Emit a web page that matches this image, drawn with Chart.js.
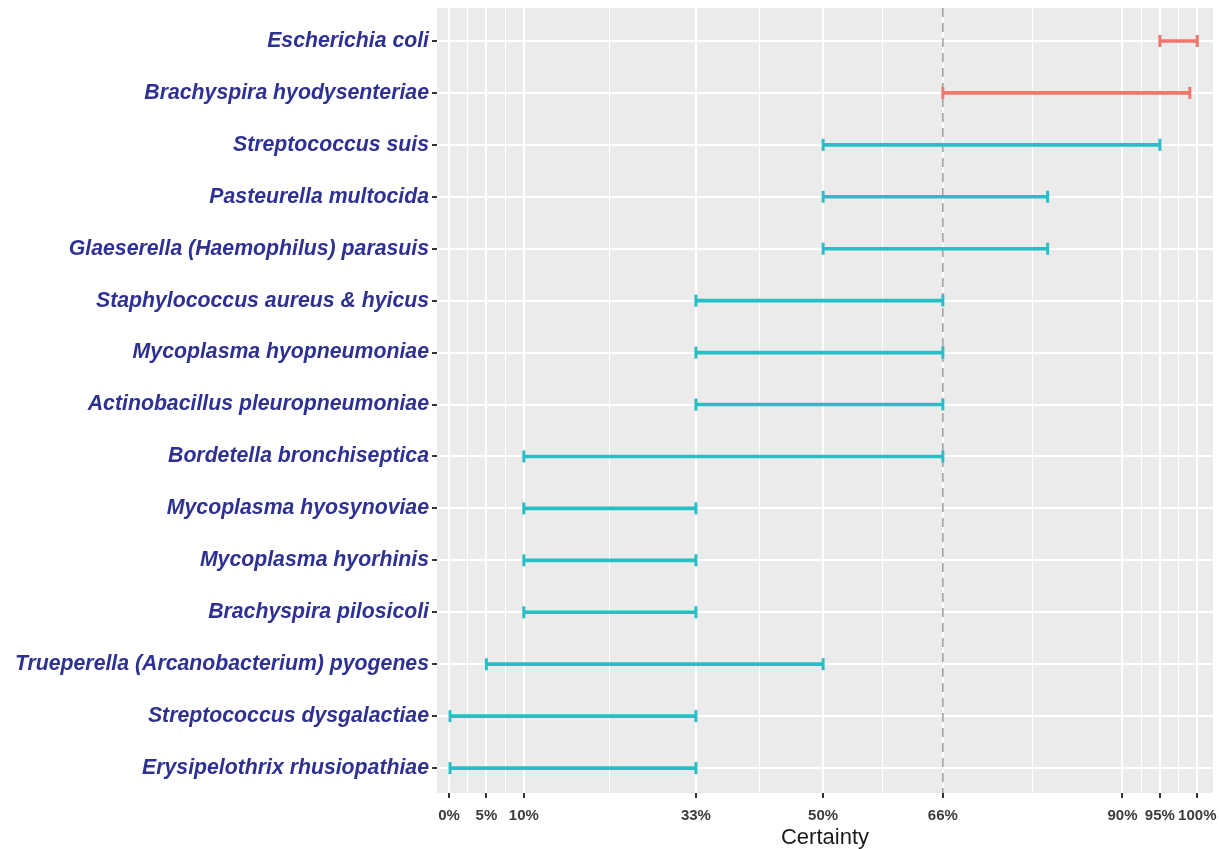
<!DOCTYPE html>
<html>
<head>
<meta charset="utf-8">
<script src="https://cdn.jsdelivr.net/npm/chart.js@4/dist/chart.umd.min.js"></script>
<style>
  html, body { margin: 0; padding: 0; background: #fff; }
  #wrap { width: 1219px; height: 849px; }
</style>
</head>
<body>
<div id="wrap"><canvas id="certaintyChart"></canvas></div>
<script>
const species = [
    'Escherichia coli',
    'Brachyspira hyodysenteriae',
    'Streptococcus suis',
    'Pasteurella multocida',
    'Glaeserella (Haemophilus) parasuis',
    'Staphylococcus aureus & hyicus',
    'Mycoplasma hyopneumoniae',
    'Actinobacillus pleuropneumoniae',
    'Bordetella bronchiseptica',
    'Mycoplasma hyosynoviae',
    'Mycoplasma hyorhinis',
    'Brachyspira pilosicoli',
    'Trueperella (Arcanobacterium) pyogenes',
    'Streptococcus dysgalactiae',
    'Erysipelothrix rhusiopathiae'
]
const lowerBound = [95, 66, 50, 50, 50, 33, 33, 33, 10, 10, 10, 10, 5, 0, 0]
const upperBound = [100, 99, 95, 80, 80, 66, 66, 66, 66, 33, 33, 33, 50, 33, 33]
const aboveThreshold = [true, true, false, false, false, false, false, false, false, false, false, false, false, false, false]
const majorBreaks = [0, 5, 10, 33, 50, 66, 90, 95, 100]
const minorBreaks = [2.5, 7.5, 21.5, 41.5, 58, 78, 92.5, 97.5]
const threshold = 66

const RED = '#F0776C'
const TEAL = '#27BFC6'

const points = []
const colors = []
for (let i = 0; i < species.length; i++) {
    points.push({ x: [lowerBound[i], upperBound[i]], y: i })
    colors.push(aboveThreshold[i] ? RED : TEAL)
}

// gray ggplot panel
const panelPlugin = {
    id: 'panel',
    beforeDraw(chart) {
        const a = chart.chartArea
        const ctx = chart.ctx
        ctx.save()
        ctx.fillStyle = '#EBEBEB'
        ctx.fillRect(a.left, a.top, a.right - a.left, a.bottom - a.top)
        ctx.restore()
    }
}

// dashed reference line at 66%
const thresholdPlugin = {
    id: 'threshold',
    beforeDatasetsDraw(chart) {
        const a = chart.chartArea
        const ctx = chart.ctx
        const x = chart.scales.x.getPixelForValue(threshold)
        ctx.save()
        ctx.strokeStyle = '#9A9A9A'
        ctx.lineWidth = 1.5
        ctx.setLineDash([9, 6])
        ctx.beginPath()
        ctx.moveTo(x, a.top)
        ctx.lineTo(x, a.bottom)
        ctx.stroke()
        ctx.restore()
    }
}

// end caps of each interval
const capsPlugin = {
    id: 'caps',
    afterDatasetsDraw(chart) {
        const ctx = chart.ctx
        const meta = chart.getDatasetMeta(0)
        ctx.save()
        ctx.lineWidth = 3
        meta.data.forEach((bar, i) => {
            ctx.strokeStyle = colors[i]
            ;[bar.x, bar.base].forEach(px => {
                ctx.beginPath()
                ctx.moveTo(px, bar.y - 6)
                ctx.lineTo(px, bar.y + 6)
                ctx.stroke()
            })
        })
        ctx.restore()
    }
}

const config = {
    type: 'bar',
    data: {
        datasets: [{
            data: points,
            backgroundColor: colors,
            borderWidth: 0,
            barThickness: 3
        }]
    },
    options: {
        indexAxis: 'y',
        responsive: true,
        maintainAspectRatio: false,
        animation: false,
        layout: { padding: { top: 8, right: 6, left: 0, bottom: 0 } },
        plugins: {
            legend: { display: false },
            tooltip: { enabled: false }
        },
        scales: {
            x: {
                type: 'linear',
                min: -1.6,
                max: 102.1,
                afterBuildTicks(scale) {
                    scale.ticks = majorBreaks.concat(minorBreaks).sort((a, b) => a - b).map(v => ({ value: v }))
                },
                afterFit(scale) {
                    scale.height = 56
                    scale.paddingLeft = 0
                    scale.paddingRight = 0
                },
                border: { display: false },
                grid: {
                    color: '#FFFFFF',
                    lineWidth: ctx => majorBreaks.includes(ctx.tick && ctx.tick.value) ? 2 : 1,
                    tickColor: ctx => majorBreaks.includes(ctx.tick && ctx.tick.value) ? '#333333' : 'rgba(0,0,0,0)',
                    tickLength: 5
                },
                ticks: {
                    autoSkip: false,
                    maxRotation: 0,
                    padding: 9,
                    color: '#3C3C3C',
                    font: { family: 'Liberation Sans, Arial, sans-serif', size: 15, weight: 'bold' },
                    callback: value => majorBreaks.includes(value) ? value + '%' : ''
                },
                title: {
                    display: true,
                    text: 'Certainty',
                    color: '#1A1A1A',
                    padding: { top: 0, bottom: 0 },
                    font: { family: 'Liberation Sans, Arial, sans-serif', size: 22, lineHeight: 1 }
                }
            },
            y: {
                type: 'linear',
                reverse: true,
                offset: false,
                min: -0.635,
                max: 14.48,
                afterBuildTicks(scale) {
                    scale.ticks = species.map((s, i) => ({ value: i }))
                },
                afterFit(scale) {
                    scale.width = 437
                    scale.paddingTop = 0
                    scale.paddingBottom = 0
                },
                border: { display: false },
                grid: {
                    offset: false,
                    color: '#FFFFFF',
                    lineWidth: 2,
                    tickColor: '#333333',
                    tickLength: 5
                },
                ticks: {
                    autoSkip: false,
                    padding: 3,
                    color: '#2E3192',
                    font: { family: 'Liberation Sans, Arial, sans-serif', size: 21.25, weight: 'bold', style: 'italic' },
                    callback: value => species[value]
                }
            }
        }
    },
    plugins: [panelPlugin, thresholdPlugin, capsPlugin]
}

const ctxCertainty = document.getElementById('certaintyChart').getContext('2d')
new Chart(ctxCertainty, config)
</script>
</body>
</html>
